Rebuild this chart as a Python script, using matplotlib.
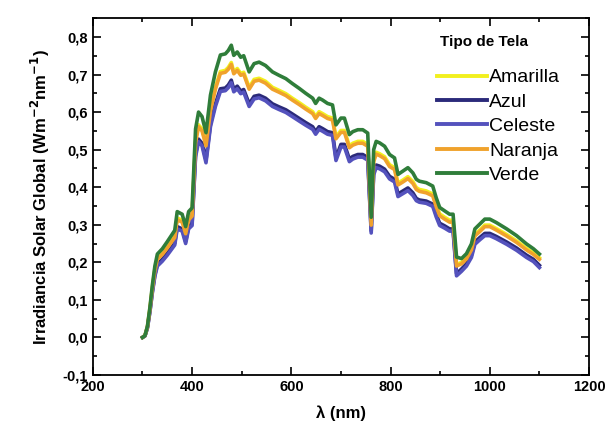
import matplotlib
matplotlib.use("Agg")
import matplotlib.pyplot as plt
from matplotlib.ticker import MultipleLocator, FuncFormatter

# wavelength (nm)
wl = [300, 305, 310, 315, 320, 325, 330, 340, 350, 360, 365, 370, 380, 387, 393, 400,
      407, 413, 420, 428, 437, 447, 457, 467, 473, 479, 484, 491, 498, 504, 515, 525,
      535, 548, 562, 575, 589, 602, 616, 629, 643, 649, 656, 663, 673, 683, 690, 700,
      707, 717, 724, 734, 744, 754, 761, 766, 771, 778, 788, 798, 808, 815, 825, 835,
      845, 852, 858, 872, 885, 892, 899, 909, 919, 926, 933, 943, 953, 963, 970, 980,
      990, 1000, 1013, 1034, 1054, 1074, 1088, 1100]

amarilla = [0.000, 0.005, 0.029, 0.077, 0.134, 0.182, 0.212, 0.225, 0.243, 0.262, 0.271, 0.318,
            0.312, 0.281, 0.318, 0.328, 0.524, 0.566, 0.555, 0.515, 0.608, 0.666, 0.708, 0.711,
            0.719, 0.732, 0.707, 0.716, 0.703, 0.706, 0.666, 0.687, 0.690, 0.682, 0.666, 0.658,
            0.649, 0.637, 0.625, 0.613, 0.601, 0.588, 0.601, 0.596, 0.588, 0.584, 0.534, 0.551,
            0.551, 0.510, 0.517, 0.522, 0.522, 0.514, 0.303, 0.473, 0.493, 0.489, 0.481, 0.460,
            0.452, 0.411, 0.419, 0.428, 0.415, 0.399, 0.394, 0.390, 0.382, 0.353, 0.329, 0.320,
            0.312, 0.312, 0.194, 0.200, 0.213, 0.237, 0.274, 0.286, 0.299, 0.299, 0.290, 0.274,
            0.257, 0.237, 0.225, 0.212]

azul = [0.000, 0.004, 0.026, 0.070, 0.123, 0.167, 0.195, 0.208, 0.224, 0.242, 0.251, 0.295,
        0.289, 0.255, 0.295, 0.304, 0.488, 0.528, 0.517, 0.472, 0.568, 0.622, 0.662, 0.664,
        0.672, 0.685, 0.661, 0.669, 0.656, 0.660, 0.622, 0.642, 0.645, 0.637, 0.622, 0.614,
        0.606, 0.595, 0.583, 0.572, 0.561, 0.548, 0.561, 0.556, 0.548, 0.545, 0.478, 0.514,
        0.514, 0.475, 0.482, 0.487, 0.487, 0.479, 0.284, 0.440, 0.459, 0.456, 0.448, 0.429,
        0.421, 0.382, 0.390, 0.398, 0.385, 0.370, 0.366, 0.363, 0.355, 0.327, 0.304, 0.297,
        0.289, 0.289, 0.170, 0.182, 0.196, 0.219, 0.254, 0.266, 0.277, 0.277, 0.269, 0.254,
        0.238, 0.219, 0.208, 0.192]

celeste = [0.000, 0.004, 0.025, 0.068, 0.120, 0.163, 0.190, 0.203, 0.219, 0.237, 0.246, 0.289,
           0.283, 0.250, 0.289, 0.298, 0.481, 0.521, 0.510, 0.465, 0.561, 0.615, 0.655, 0.657,
           0.665, 0.678, 0.654, 0.662, 0.649, 0.653, 0.615, 0.635, 0.638, 0.630, 0.615, 0.607,
           0.599, 0.588, 0.576, 0.565, 0.554, 0.541, 0.554, 0.549, 0.541, 0.538, 0.471, 0.507,
           0.507, 0.468, 0.475, 0.480, 0.480, 0.472, 0.278, 0.433, 0.452, 0.449, 0.441, 0.422,
           0.414, 0.375, 0.383, 0.391, 0.378, 0.364, 0.360, 0.357, 0.349, 0.321, 0.298, 0.291,
           0.283, 0.283, 0.164, 0.176, 0.190, 0.213, 0.248, 0.260, 0.271, 0.271, 0.263, 0.248,
           0.232, 0.213, 0.202, 0.186]

naranja = [0.000, 0.005, 0.028, 0.075, 0.131, 0.178, 0.208, 0.221, 0.238, 0.257, 0.266, 0.313,
           0.307, 0.276, 0.313, 0.323, 0.519, 0.561, 0.550, 0.510, 0.603, 0.661, 0.703, 0.706,
           0.714, 0.727, 0.702, 0.711, 0.698, 0.701, 0.661, 0.682, 0.685, 0.677, 0.661, 0.653,
           0.644, 0.632, 0.620, 0.608, 0.596, 0.583, 0.596, 0.591, 0.583, 0.579, 0.529, 0.546,
           0.546, 0.505, 0.512, 0.517, 0.517, 0.509, 0.299, 0.468, 0.488, 0.484, 0.476, 0.455,
           0.447, 0.406, 0.414, 0.423, 0.410, 0.394, 0.389, 0.385, 0.377, 0.348, 0.324, 0.315,
           0.307, 0.307, 0.190, 0.196, 0.209, 0.233, 0.270, 0.282, 0.295, 0.295, 0.286, 0.270,
           0.253, 0.233, 0.221, 0.208]

verde = [0.000, 0.005, 0.030, 0.080, 0.140, 0.190, 0.222, 0.236, 0.255, 0.275, 0.285, 0.335,
         0.328, 0.295, 0.335, 0.345, 0.555, 0.600, 0.588, 0.545, 0.645, 0.707, 0.752, 0.755,
         0.764, 0.778, 0.751, 0.760, 0.746, 0.750, 0.707, 0.729, 0.733, 0.724, 0.707, 0.698,
         0.689, 0.676, 0.663, 0.650, 0.637, 0.623, 0.637, 0.632, 0.623, 0.619, 0.566, 0.584,
         0.584, 0.540, 0.548, 0.553, 0.553, 0.544, 0.320, 0.500, 0.522, 0.518, 0.509, 0.487,
         0.478, 0.434, 0.443, 0.452, 0.438, 0.421, 0.416, 0.412, 0.403, 0.372, 0.346, 0.337,
         0.328, 0.328, 0.214, 0.210, 0.223, 0.249, 0.289, 0.302, 0.315, 0.315, 0.306, 0.289,
         0.271, 0.249, 0.236, 0.222]

series = [
    ("Amarilla", amarilla, "#f2f01e"),
    ("Azul", azul, "#2b2a7a"),
    ("Celeste", celeste, "#5452bd"),
    ("Naranja", naranja, "#f0a22c"),
    ("Verde", verde, "#2f7d3a"),
]

plt.rcParams['font.family'] = ['Liberation Sans', 'DejaVu Sans']

fig = plt.figure(figsize=(6.11, 4.33), dpi=100)
ax = fig.add_axes([0.152, 0.134, 0.812, 0.824])

for name, vals, col in series:
    ax.plot(wl, vals, color=col, lw=2.6, label=name, solid_joinstyle='round')

ax.set_xlim(200, 1200)
ax.set_ylim(-0.1, 0.85)
ax.xaxis.set_major_locator(MultipleLocator(200))
ax.xaxis.set_minor_locator(MultipleLocator(100))
ax.yaxis.set_major_locator(MultipleLocator(0.1))
ax.yaxis.set_minor_locator(MultipleLocator(0.05))
ax.yaxis.set_major_formatter(FuncFormatter(lambda v, p: f"{v:.1f}".replace(".", ",").replace("-0,0", "0,0")))

ax.tick_params(which='both', direction='in', top=True, right=True, width=1.2)
ax.tick_params(which='major', length=6, labelsize=10.5)
ax.tick_params(which='minor', length=3)
for lab in ax.get_xticklabels() + ax.get_yticklabels():
    lab.set_fontweight('bold')
for sp in ax.spines.values():
    sp.set_linewidth(1.3)

ax.set_xlabel("λ (nm)", fontsize=12, fontweight='bold', labelpad=8)
ax.set_ylabel("Irradiancia Solar Global (Wm$^{\\mathbf{-2}}$nm$^{\\mathbf{-1}}$)",
              fontsize=12, fontweight='bold', labelpad=8)

# legend title placed separately (larger gap to entries as in the original)
ax.text(0.70, 0.933, "Tipo de Tela", transform=ax.transAxes, fontsize=11,
        fontweight='bold', va='center', ha='left')
leg = ax.legend(loc='upper left', bbox_to_anchor=(0.693, 0.858),
                frameon=False, fontsize=14, handlelength=2.6, handletextpad=0.1,
                labelspacing=0.35, borderaxespad=0, borderpad=0)
for line in leg.get_lines():
    line.set_linewidth(2.8)

fig.savefig("out.png", dpi=100)
